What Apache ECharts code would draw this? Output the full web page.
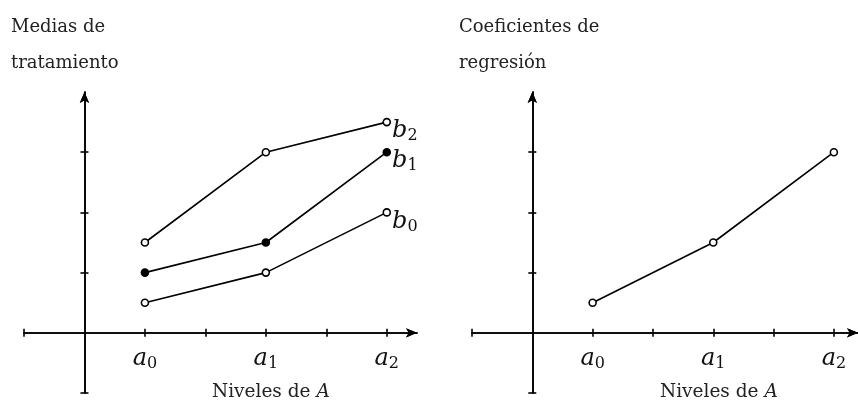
<!DOCTYPE html>
<html>
<head>
<meta charset="utf-8">
<script src="https://cdn.jsdelivr.net/npm/echarts@6/dist/echarts.min.js"></script>
<style>
  html, body { margin: 0; padding: 0; background: #fff; }
  #main { width: 858px; height: 405px; }
</style>
</head>
<body>
<div id="main"></div>
<script>
// niveles de A (posicion en el eje) y sus etiquetas
var levelX = [1, 3, 5];
var levelNames = ['0', '1', '2'];
// medias de tratamiento por nivel de B
var b0 = [0.5, 1, 2];
var b1 = [1, 1.5, 3];
var b2 = [1.5, 3, 3.5];
// coeficientes de regresion
var coef = [0.5, 1.5, 3];
var xTicks = [-1, 1, 2, 3, 4, 5];
var yTicks = [-1, 1, 2, 3];

var serif = '"DejaVu Serif", "Liberation Serif", serif';

function pts(vals) {
    return vals.map(function (v, i) { return [levelX[i], v]; });
}

function xLabel(v) {
    var i = levelX.indexOf(v);
    return i < 0 ? '' : '{i|a}{s|' + levelNames[i] + '}';
}

var labelRich = {
    i: { fontFamily: serif, fontStyle: 'italic', fontSize: 24, color: '#111' },
    s: { fontFamily: serif, fontSize: 16, color: '#111', padding: [10, 0, 0, 0] }
};

var axisLine = { show: true, onZero: true, symbol: ['none', 'arrow'], symbolSize: [7, 11],
                 lineStyle: { color: '#000', width: 1.6 } };

function makeX(gridIndex, max, pos) {
    return {
        type: 'value', gridIndex: gridIndex, min: -1, max: max, position: pos,
        axisLine: axisLine,
        axisTick: { show: true, length: 4, customValues: xTicks, lineStyle: { color: '#000', width: 1.6 } },
        axisLabel: { show: false },
        splitLine: { show: false }
    };
}

// eje solo para las etiquetas a0, a1, a2 (bajo la linea y = 0)
function labelX(gridIndex, max) {
    return {
        type: 'value', gridIndex: gridIndex, min: -1, max: max, position: 'bottom',
        axisLine: { show: false }, axisTick: { show: false },
        axisLabel: { show: true, customValues: levelX, margin: 14, formatter: xLabel, rich: labelRich },
        splitLine: { show: false }
    };
}

function makeY(gridIndex, pos) {
    return {
        type: 'value', gridIndex: gridIndex, min: -1, max: 4, position: pos,
        axisLine: axisLine,
        axisTick: { show: true, length: 4, customValues: yTicks, lineStyle: { color: '#000', width: 1.6 } },
        axisLabel: { show: false },
        splitLine: { show: false }
    };
}

function hiddenY(gridIndex) {
    return { type: 'value', gridIndex: gridIndex, min: 0, max: 4, show: false };
}

function lineSeries(name, vals, xi, yi, filled, tag) {
    var data = pts(vals);
    if (tag) {
        data[data.length - 1] = {
            value: data[data.length - 1],
            label: { show: true, position: 'right', distance: 1, offset: [0, 9],
                     formatter: '{i|b}{s|' + tag + '}', rich: labelRich }
        };
    }
    return {
        name: name, type: 'line', xAxisIndex: xi, yAxisIndex: yi, data: data,
        symbol: 'circle', symbolSize: 7, z: 5,
        lineStyle: { color: '#000', width: 1.6 },
        itemStyle: { color: filled ? '#000' : '#fff', borderColor: '#000', borderWidth: 1.6 },
        label: { show: false }
    };
}

var titleStyle = { fontFamily: serif, fontSize: 18, fontWeight: 'normal', color: '#222', lineHeight: 36 };
var nameStyle = { fontFamily: serif, fontSize: 18.5, fontWeight: 'normal', color: '#222',
                  rich: { i: { fontFamily: serif, fontStyle: 'italic', fontSize: 18.5, color: '#222' } } };

var myChart = echarts.init(document.getElementById('main'));
var option = {
    animation: false,
    title: [
        { text: 'Medias de\ntratamiento', left: 6, top: 4, textStyle: titleStyle },
        { text: 'Coeficientes de\nregresión', left: 454, top: 4, textStyle: titleStyle },
        { text: 'Niveles de {i|A}', left: 207, top: 378, textStyle: nameStyle },
        { text: 'Niveles de {i|A}', left: 655, top: 378, textStyle: nameStyle }
    ],
    grid: [
        { left: 24, top: 92, width: 393, height: 301, outerBoundsMode: 'none' },
        { left: 472, top: 92, width: 386, height: 301, outerBoundsMode: 'none' },
        { left: 24, top: 92, width: 393, height: 240, outerBoundsMode: 'none' },
        { left: 472, top: 92, width: 386, height: 240, outerBoundsMode: 'none' }
    ],
    xAxis: [
        makeX(0, 5.5, 'bottom'), makeX(0, 5.5, 'top'),
        makeX(1, 5.4, 'bottom'), makeX(1, 5.4, 'top'),
        labelX(2, 5.5), labelX(3, 5.4)
    ],
    yAxis: [
        makeY(0, 'left'), makeY(0, 'right'),
        makeY(1, 'left'), makeY(1, 'right'),
        hiddenY(2), hiddenY(3)
    ],
    series: [
        lineSeries('b0', b0, 0, 0, false, '0'),
        lineSeries('b1', b1, 0, 0, true, '1'),
        lineSeries('b2', b2, 0, 0, false, '2'),
        lineSeries('coef', coef, 2, 2, false, null)
    ]
};
myChart.setOption(option);
</script>
</body>
</html>
